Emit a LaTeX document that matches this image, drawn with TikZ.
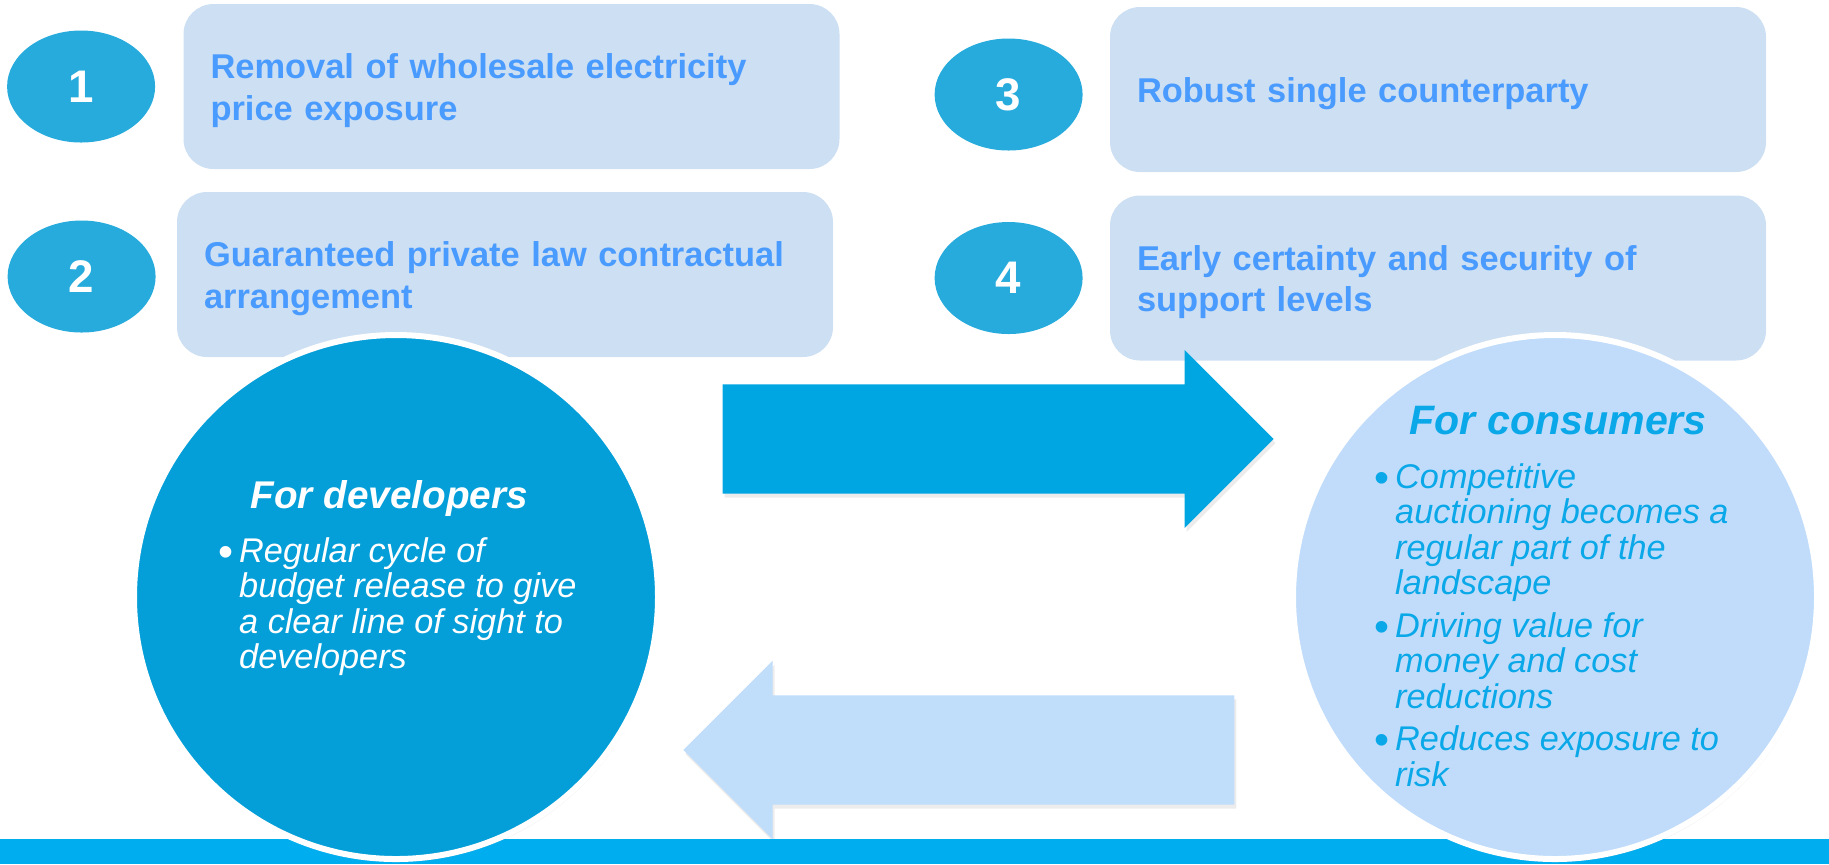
\documentclass[tikz,border=0pt]{standalone}
\usepackage{fontspec}
\setmainfont{Liberation Sans}
\usepackage{tikz}
\usetikzlibrary{positioning,shapes.geometric,shapes.arrows,shadows}

\definecolor{boxfill}{HTML}{CDDFF2}
\definecolor{boxtext}{HTML}{4A9BFF}
\definecolor{numfill}{HTML}{26ABDC}
\definecolor{devfill}{HTML}{049ED8}
\definecolor{consfill}{HTML}{C0DCFA}
\definecolor{constext}{HTML}{0AA8E8}
\definecolor{fwdfill}{HTML}{00A6E2}
\definecolor{backfill}{HTML}{C0DDFA}
\definecolor{barfill}{HTML}{00AEEF}

\newcommand{\bul}{\makebox[2.05mm][l]{\upshape\raisebox{-1.2pt}{\scalebox{1.25}{\textbullet}}}}

\begin{document}
\begin{tikzpicture}[x=0.1mm, y=-0.1mm,
	box node/.style={rectangle, rounded corners=3mm, fill=boxfill, text=boxtext,
		minimum width=65.6mm, minimum height=16.5mm, text width=60.2mm,
		inner xsep=2.7mm, inner ysep=0pt, align=left,
		execute at begin node={\rule{0pt}{9.5pt}},
		font=\fontsize{9.8pt}{11.8pt}\selectfont\bfseries},
	num node/.style={ellipse, fill=numfill, text=white, minimum width=14.8mm,
		minimum height=11.2mm, inner sep=0pt, font=\fontsize{13pt}{15pt}\selectfont\bfseries},
	big node/.style={circle, draw=white, line width=0.6mm, minimum size=52.4mm, inner sep=0pt,
		drop shadow={shadow xshift=0.15mm, shadow yshift=-0.3mm, opacity=0.15}},
	arrow node/.style={single arrow, minimum height=55.1mm, minimum width=17.7mm,
		single arrow head extend=3.45mm, inner xsep=0pt, inner ysep=5.4mm, anchor=tail,
		drop shadow={shadow xshift=0.2mm, shadow yshift=-0.4mm, opacity=0.15}},
	head node/.style={anchor=base west, inner sep=0pt},
	list node/.style={anchor=base west, inner sep=0pt,
		font=\fontsize{9.75pt}{10.1pt}\selectfont\itshape}]

	\useasboundingbox (0,0) rectangle (1829,864);

	\node[box node] (b1) at (511.5,86.5) {Removal of wholesale electricity\\price exposure};
	\node[box node] (b2) at (505,274.5) {Guaranteed private law contractual\\arrangement};
	\node[box node] (b3) at (1438,89.5) {Robust single counterparty};
	\node[box node] (b4) at (1438,278) {Early certainty and security of\\support levels};

	\node[num node, left=2.7mm of b1] (1) {1};
	\node[num node, left=2mm of b2, yshift=-0.2mm] (2) {2};
	\node[num node, left=2.6mm of b3, yshift=-0.5mm] (3) {3};
	\node[num node, left=2.6mm of b4] (4) {4};

	\node[arrow node, fill=fwdfill] (fwd) at (722,439) {};
	\node[arrow node, fill=backfill, shape border rotate=180] (back) at (1235,750) {};

	\fill[barfill] (0,839) rectangle (1829,864);

	\node[big node, fill=devfill] (dev) at (396,597) {};
	\node[big node, fill=consfill] (cons) at (1555,597) {};

	\node[head node, text=white, font=\fontsize{11pt}{13pt}\selectfont\bfseries\itshape]
		(devhead) at ([xshift=-14.6mm, yshift=8.9mm]dev.center) {For developers};
	\node[list node, text=white] (devlist) at ([xshift=-17.8mm, yshift=3.5mm]dev.center) {%
		\begin{tabular}[t]{@{}l@{}l@{}}
		\bul & Regular cycle of\\
		     & budget release to give\\
		     & a clear line of sight to\\
		     & developers
		\end{tabular}};

	\node[head node, text=constext, font=\fontsize{11.7pt}{13pt}\selectfont\bfseries\itshape]
		(conshead) at ([xshift=-14.6mm, yshift=16.3mm]cons.center) {For consumers};
	\node[list node, text=constext] (conslist) at ([xshift=-18.1mm, yshift=10.9mm]cons.center) {%
		\begin{tabular}[t]{@{}l@{}l@{}}
		\bul & Competitive\\
		     & auctioning becomes a\\
		     & regular part of the\\
		     & landscape\\[2pt]
		\bul & Driving value for\\
		     & money and cost\\
		     & reductions\\[2pt]
		\bul & Reduces exposure to\\
		     & risk
		\end{tabular}};
\end{tikzpicture}
\end{document}
